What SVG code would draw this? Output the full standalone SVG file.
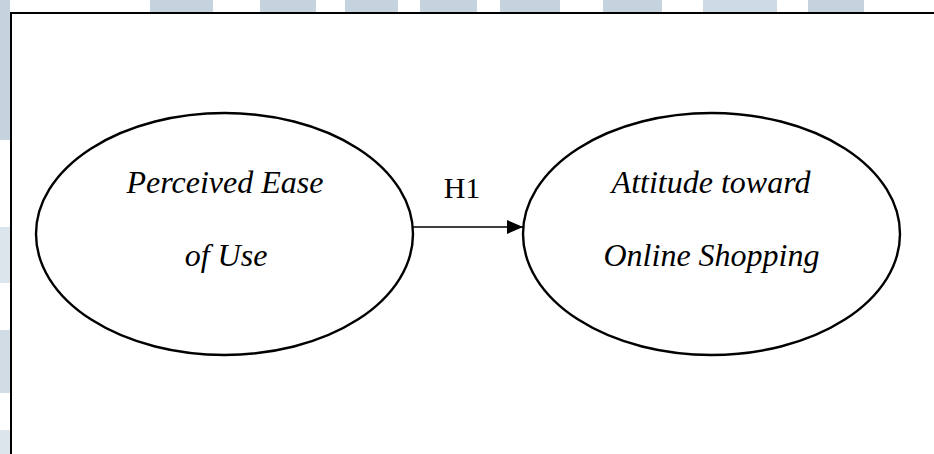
<svg xmlns="http://www.w3.org/2000/svg" width="934" height="454" viewBox="0 0 934 454">
  <style>
    .bg { fill: #c5d3df; }
    .node { fill: #ffffff; stroke: #000000; stroke-width: 2.4; }
    .label { font-family: "Liberation Serif", "Times New Roman", serif; font-style: italic; font-size: 32px; fill: #000000; text-anchor: middle; }
    .edge { stroke: #000000; stroke-width: 1.3; fill: none; }
    .edge-label { font-family: "Liberation Serif", "Times New Roman", serif; font-size: 30px; fill: #000000; text-anchor: middle; }
  </style>
  <defs>
    <marker id="arrow" viewBox="0 0 16 14" refX="16" refY="7" markerWidth="16" markerHeight="14" markerUnits="userSpaceOnUse" orient="auto">
      <path d="M0,0 L16,7 L0,14 Z" fill="#000000"/>
    </marker>
  </defs>

  <rect x="0" y="0" width="934" height="454" fill="#ffffff"/>

  <!-- faint page decoration around the frame -->
  <g id="backdrop" class="bg">
    <rect x="0" y="0" width="10" height="140"/>
    <rect x="0" y="227" width="10" height="56" opacity="0.6"/>
    <rect x="0" y="330" width="10" height="63" opacity="0.8"/>
    <rect x="0" y="430" width="10" height="24" opacity="0.6"/>
    <rect x="150" y="0" width="63" height="12"/>
    <rect x="260" y="0" width="56" height="12"/>
    <rect x="345" y="0" width="53" height="12"/>
    <rect x="420" y="0" width="57" height="12"/>
    <rect x="500" y="0" width="60" height="12"/>
    <rect x="603" y="0" width="59" height="12"/>
    <rect x="703" y="0" width="74" height="12" opacity="0.85"/>
    <rect x="808" y="0" width="56" height="12"/>
  </g>

  <!-- frame -->
  <rect x="11" y="13" width="940" height="460" fill="#ffffff" stroke="#000000" stroke-width="2"/>

  <g id="connectors">
    <line class="edge" x1="413" y1="227" x2="523" y2="227" marker-end="url(#arrow)"/>
    <text class="edge-label" x="462" y="198">H1</text>
  </g>

  <g id="perceived-ease-of-use">
    <ellipse class="node" cx="224.5" cy="234" rx="188.5" ry="121"/>
    <text class="label" x="225" y="193">Perceived Ease</text>
    <text class="label" x="226" y="266">of Use</text>
  </g>

  <g id="attitude-toward-online-shopping">
    <ellipse class="node" cx="711.5" cy="234" rx="188.5" ry="121"/>
    <text class="label" x="711" y="193">Attitude toward</text>
    <text class="label" x="711.5" y="266">Online Shopping</text>
  </g>
</svg>
